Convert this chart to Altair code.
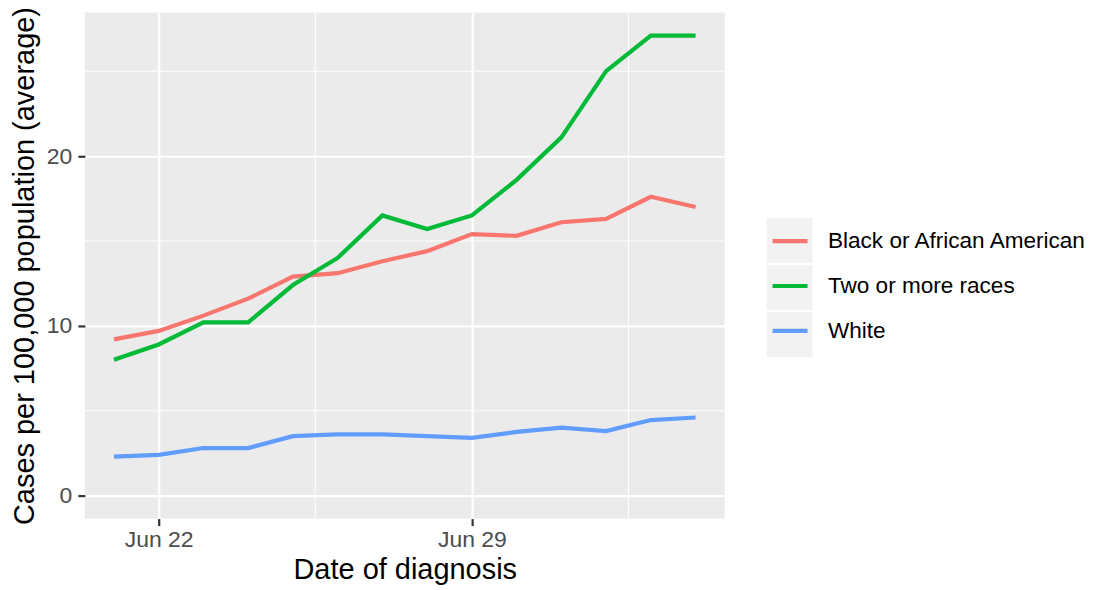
import altair as alt
import pandas as pd

# ---- data ----
dates = ["2020-06-21", "2020-06-22", "2020-06-23", "2020-06-24", "2020-06-25",
         "2020-06-26", "2020-06-27", "2020-06-28", "2020-06-29", "2020-06-30",
         "2020-07-01", "2020-07-02", "2020-07-03", "2020-07-04"]
groups = ["Black or African American", "Two or more races", "White"]
black = [9.2, 9.7, 10.6, 11.6, 12.9, 13.1, 13.8, 14.4, 15.4, 15.3, 16.1, 16.3, 17.6, 17.0]
multi = [8.0, 8.9, 10.2, 10.2, 12.4, 14.0, 16.5, 15.7, 16.5, 18.6, 21.1, 25.0, 27.1, 27.1]
white = [2.3, 2.4, 2.8, 2.8, 3.5, 3.6, 3.6, 3.5, 3.4, 3.75, 4.0, 3.8, 4.45, 4.6]
colors = ["#F8766D", "#00BA38", "#619CFF"]
y_major = [0, 10, 20]
y_minor = [5, 15, 25]
x_minor = ["2020-06-25T12:00:00", "2020-07-02T12:00:00"]

rows = []
for g, vals in zip(groups, [black, multi, white]):
    for d, v in zip(dates, vals):
        rows.append({"date": d + "T00:00:00", "group": g, "key": g, "value": v})
df = pd.DataFrame(rows)

FONT = "Liberation Sans"

x_scale = alt.Scale(domain=[alt.DateTime(year=2020, month=6, date=20, hours=8, minutes=24),
                            alt.DateTime(year=2020, month=7, date=4, hours=15, minutes=36)],
                    nice=False)
y_scale = alt.Scale(domain=[-1.355, 28.455], nice=False, zero=False)

x_axis = alt.Axis(values=[alt.DateTime(year=2020, month=6, date=22),
                          alt.DateTime(year=2020, month=6, date=29)],
                  format="%b %d", title="Date of diagnosis",
                  grid=True, gridColor="white", gridWidth=2.2,
                  labelPadding=3, titlePadding=4)
y_axis = alt.Axis(values=y_major, title="Cases per 100,000 population (average)",
                  grid=True, gridColor="white", gridWidth=2.2,
                  labelPadding=6, titlePadding=7)

minor_x = alt.Chart(pd.DataFrame({"d": x_minor})).mark_rule(
    color="white", strokeWidth=1.1).encode(
    x=alt.X("d:T", scale=x_scale, axis=x_axis))
minor_y = alt.Chart(pd.DataFrame({"v": y_minor})).mark_rule(
    color="white", strokeWidth=1.1).encode(
    y=alt.Y("v:Q", scale=y_scale, axis=y_axis))

keys = alt.Chart(df).mark_point(size=0, filled=True).encode(
    x=alt.X("date:T", scale=x_scale, axis=x_axis),
    y=alt.Y("value:Q", scale=y_scale, axis=y_axis),
    fill=alt.Fill("key:N", scale=alt.Scale(range=["#F2F2F2", "#F2F2F2", "#F2F2F2"]),
                  legend=alt.Legend(orient="none", legendX=686.5, legendY=209,
                                    title=None,
                                    symbolType="M-1.18,-1.155H1.18V1.155H-1.18Z",
                                    symbolSize=1521, symbolStrokeWidth=0,
                                    symbolOpacity=1, labelExpr="''",
                                    labelFontSize=10, rowPadding=0, padding=0)),
)

lines = alt.Chart(df).mark_line(strokeWidth=4.2).encode(
    x=alt.X("date:T", scale=x_scale, axis=x_axis),
    y=alt.Y("value:Q", scale=y_scale, axis=y_axis),
    stroke=alt.Stroke("group:N", scale=alt.Scale(domain=groups, range=colors),
                      legend=alt.Legend(orient="none", legendX=686.5, legendY=209,
                                        title=None, symbolType="stroke",
                                        symbolSize=1225, symbolStrokeWidth=4.2,
                                        labelFont=FONT, labelFontSize=22.6,
                                        labelColor="black", labelOffset=18,
                                        labelLimit=0,
                                        rowPadding=13, padding=0)),
)

chart = alt.layer(minor_x, minor_y, keys, lines).properties(
    width=641, height=507,
    autosize=alt.AutoSizeParams(type="none"),
    padding={"left": 77, "top": 4, "right": 362, "bottom": 66},
).configure_view(
    fill="#EBEBEB", strokeWidth=0
).configure_axis(
    labelFont=FONT, labelFontSize=23, labelColor="#4D4D4D",
    tickColor="#333333", tickWidth=2.2, tickSize=7, domain=False,
    titleFont=FONT, titleFontSize=29, titleColor="black", titleFontWeight="normal",
)

chart.save("out.html", embed_options={"renderer": "svg", "actions": False})
